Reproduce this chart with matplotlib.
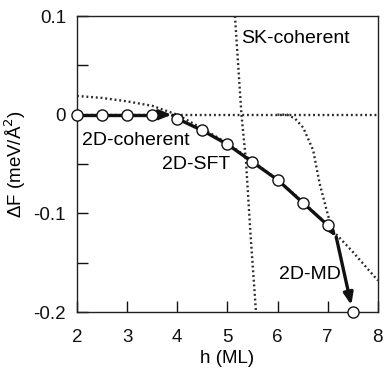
import matplotlib
matplotlib.use("Agg")
import matplotlib.pyplot as plt

plt.rcParams['font.family'] = ['Liberation Sans', 'DejaVu Sans']

# Simulation points (open circles)
h_pts = [2, 2.5, 3, 3.5, 4, 4.5, 5, 5.5, 6, 6.5, 7, 7.5]
F_pts = [0, 0, 0, 0, -0.004, -0.016, -0.030, -0.048, -0.066, -0.089, -0.112, -0.200]

# Thick path segments
seg1_h = [2, 2.5, 3, 3.5]
seg1_F = [0, 0, 0, 0]
arrow1_end = (3.89, 0.0)
seg2_h = [3.89, 4, 4.5, 5, 5.5, 6, 6.5, 7]
seg2_F = [0.0, -0.004, -0.016, -0.030, -0.048, -0.066, -0.089, -0.112]
arrow2_end = (7.17, -0.124)
arrow3_end = (7.47, -0.193)

# Dotted reference curves
flat_h = [2, 8]
flat_F = [0, 0]
para_h = [2, 2.5, 3, 3.5, 4, 4.5, 5, 5.5, 6, 6.5, 7, 7.5, 8]
para_F = [0.019, 0.017, 0.0135, 0.009, 0.0, -0.014, -0.029, -0.047, -0.066, -0.088, -0.112, -0.139, -0.168]
sk_h = [5.15, 5.28, 5.37, 5.46, 5.57]
sk_F = [0.1, 0.0, -0.047, -0.121, -0.2]
md_h = [6.0, 6.19, 6.35, 6.51, 6.71, 6.84, 6.98, 7.11]
md_F = [0.0, 0.0, -0.004, -0.013, -0.036, -0.070, -0.097, -0.121]

fig = plt.figure(figsize=(3.84, 3.68), dpi=100)
ax = fig.add_axes([0.2005, 0.152, 0.7835, 0.8045])

dot = dict(color='#2a2a2a', lw=1.7, linestyle=(0, (0.8, 1.2)))
ax.plot(flat_h, flat_F, **dot)
ax.plot(para_h, para_F, **dot)
ax.plot(sk_h, sk_F, **dot)
ax.plot(md_h, md_F, **dot)

thick = dict(color='#111111', lw=2.4, solid_capstyle='butt')
ax.plot(seg1_h, seg1_F, **thick)
ax.plot(seg2_h, seg2_F, **thick)

def arrow(start, end):
    ax.annotate('', xy=end, xytext=start,
                arrowprops=dict(arrowstyle='-|>,head_length=0.7,head_width=0.28',
                                color='#111111', lw=2.4, shrinkA=0, shrinkB=0))

arrow((seg1_h[-1], seg1_F[-1]), arrow1_end)
arrow((seg2_h[-1], seg2_F[-1]), arrow2_end)
arrow(arrow2_end, arrow3_end)

ax.plot(h_pts, F_pts, 'o', ms=8, mfc='white', mec='#111111', mew=1.0,
        clip_on=False, zorder=5)

ax.set_xlim(2, 8)
ax.set_ylim(-0.2, 0.1)
ax.set_xticks([2, 3, 4, 5, 6, 7, 8])
ax.set_yticks([-0.2, -0.15, -0.1, -0.05, 0, 0.05, 0.1])
ax.set_yticklabels(['-0.2', '', '-0.1', '', '0', '', '0.1'])
ax.tick_params(direction='in', length=8, width=1, labelsize=13.5, colors='#111111')
ax.tick_params(axis='y', pad=8)
ax.tick_params(axis='x', pad=12)
for s in ax.spines.values():
    s.set_linewidth(1.0)
    s.set_color('#222222')

ax.set_xlabel('h (ML)', fontsize=13.5, labelpad=3)
ax.set_ylabel('ΔF (meV/Å$^2$)', fontsize=13.5, labelpad=4)

fs = 14
ax.text(5.27, 0.077, 'SK-coherent', fontsize=fs, va='center', ha='left')
ax.text(2.1, -0.026, '2D-coherent', fontsize=fs, va='center', ha='left')
ax.text(3.7, -0.050, '2D-SFT', fontsize=fs, va='center', ha='left')
ax.text(6.03, -0.162, '2D-MD', fontsize=fs, va='center', ha='left')

fig.savefig('out.png', dpi=100)
